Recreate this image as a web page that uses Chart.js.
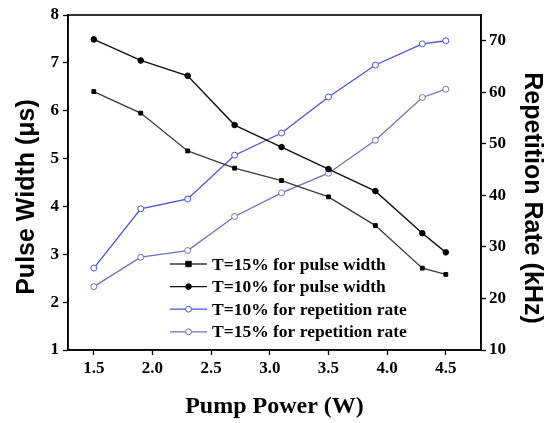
<!DOCTYPE html>
<html>
<head>
<meta charset="utf-8">
<script src="https://cdn.jsdelivr.net/npm/chart.js@4/dist/chart.umd.min.js"></script>
<style>
html,body{margin:0;padding:0;background:#fff;}
#wrap{width:549px;height:423px;position:relative;}
</style>
</head>
<body>
<div id="wrap"><canvas id="c" width="549" height="423"></canvas></div>
<script>
// ---- data ----
const pumpPower = [1.5, 1.9, 2.3, 2.7, 3.1, 3.5, 3.9, 4.3, 4.5];
const pulseT15 = [6.40, 5.95, 5.16, 4.80, 4.54, 4.20, 3.60, 2.71, 2.58];
const pulseT10 = [7.49, 7.05, 6.73, 5.70, 5.24, 4.78, 4.32, 3.44, 3.04];
const repT10 = [25.9, 37.4, 39.3, 47.8, 52.1, 59.1, 65.3, 69.4, 70.0];
const repT15 = [22.3, 28.0, 29.3, 35.9, 40.5, 44.3, 50.7, 59.0, 60.6];
const seriesLabels = ['T=15% for pulse width', 'T=10% for pulse width', 'T=10% for repetition rate', 'T=15% for repetition rate'];
const xTickValues = [1.5, 2.0, 2.5, 3.0, 3.5, 4.0, 4.5];
const xTickLabels = ['1.5', '2.0', '2.5', '3.0', '3.5', '4.0', '4.5'];
const leftTickValues = [1, 2, 3, 4, 5, 6, 7, 8];
const rightTickValues = [10, 20, 30, 40, 50, 60, 70];
const xTitle = 'Pump Power (W)';
const leftTitle = 'Pulse Width (\u03BCs)';
const rightTitle = 'Repetition Rate (kHz)';

const toXY = (ys) => pumpPower.map((x, i) => ({x: x, y: ys[i]}));

const tickFont = {family: '"Liberation Serif", "Times New Roman", serif', weight: 'bold', size: 17};

const frame = {
  id: 'frame',
  afterDraw(chart) {
    const a = chart.chartArea, ctx = chart.ctx;
    ctx.save();
    ctx.strokeStyle = '#000';
    ctx.lineWidth = 1.6;
    ctx.strokeRect(a.left, a.top, a.right - a.left, a.bottom - a.top);
    ctx.restore();
  }
};

const titles = {
  id: 'titles',
  afterDraw(chart) {
    const ctx = chart.ctx;
    ctx.save();
    ctx.fillStyle = '#000';
    ctx.textAlign = 'center';
    ctx.textBaseline = 'middle';
    ctx.font = 'bold 25px "Liberation Sans", Arial, sans-serif';
    ctx.save();
    ctx.translate(27, 197);
    ctx.rotate(-Math.PI / 2);
    ctx.fillText(leftTitle, 0, 0);
    ctx.restore();
    ctx.save();
    ctx.translate(532, 198);
    ctx.rotate(Math.PI / 2);
    ctx.fillText(rightTitle, 0, 0);
    ctx.restore();
    ctx.font = 'bold 24px "Liberation Serif", "Times New Roman", serif';
    ctx.textBaseline = 'alphabetic';
    ctx.fillText(xTitle, (chart.chartArea.left + chart.chartArea.right) / 2, 413);
    ctx.restore();
  }
};

const legendIn = {
  id: 'legendIn',
  afterDatasetsDraw(chart) {
    const ctx = chart.ctx;
    ctx.save();
    ctx.font = 'bold 17.5px "Liberation Serif", "Times New Roman", serif';
    ctx.textBaseline = 'middle';
    ctx.textAlign = 'left';
    chart.data.datasets.forEach((ds, i) => {
      const y = 264 + i * 22.6;
      ctx.strokeStyle = ds.borderColor;
      ctx.lineWidth = ds.borderWidth;
      ctx.beginPath();
      ctx.moveTo(170, y);
      ctx.lineTo(207, y);
      ctx.stroke();
      ctx.fillStyle = ds.pointBackgroundColor;
      ctx.strokeStyle = ds.pointBorderColor;
      ctx.lineWidth = ds.pointBorderWidth;
      ctx.beginPath();
      if (ds.pointStyle === 'rect') {
        const r = ds.pointRadius;
        ctx.rect(188.5 - r, y - r, 2 * r, 2 * r);
      } else {
        ctx.arc(188.5, y, ds.pointRadius, 0, Math.PI * 2);
      }
      ctx.fill();
      ctx.stroke();
      ctx.fillStyle = '#000';
      ctx.fillText(ds.label, 212, y + 1);
    });
    ctx.restore();
  }
};

new Chart(document.getElementById('c'), {
  type: 'line',
  data: {
    datasets: [
      {label: seriesLabels[0], data: toXY(pulseT15), yAxisID: 'y',
       borderColor: '#3a3a3a', borderWidth: 1.3, pointStyle: 'rect', pointRadius: 2.7,
       pointBackgroundColor: '#000', pointBorderColor: '#000', pointBorderWidth: 1},
      {label: seriesLabels[1], data: toXY(pulseT10), yAxisID: 'y',
       borderColor: '#111', borderWidth: 1.4, pointStyle: 'circle', pointRadius: 2.8,
       pointBackgroundColor: '#000', pointBorderColor: '#000', pointBorderWidth: 1},
      {label: seriesLabels[2], data: toXY(repT10), yAxisID: 'y2',
       borderColor: '#4353e2', borderWidth: 1.3, pointStyle: 'circle', pointRadius: 3,
       pointBackgroundColor: '#fff', pointBorderColor: '#4353e2', pointBorderWidth: 1},
      {label: seriesLabels[3], data: toXY(repT15), yAxisID: 'y2',
       borderColor: '#6b72b8', borderWidth: 1.3, pointStyle: 'circle', pointRadius: 3,
       pointBackgroundColor: '#fff', pointBorderColor: '#6b72b8', pointBorderWidth: 1}
    ]
  },
  options: {
    responsive: false,
    animation: false,
    layout: {padding: {top: 15, left: 0, right: 0, bottom: 0}},
    plugins: {legend: {display: false}, tooltip: {enabled: false}},
    elements: {line: {tension: 0}},
    scales: {
      x: {
        type: 'linear', min: 1.28, max: 4.8,
        afterBuildTicks: (s) => { s.ticks = xTickValues.map(v => ({value: v})); },
        afterFit: (s) => { s.height = 73; },
        ticks: {color: '#000', font: tickFont, padding: 3,
                callback: (v) => xTickLabels[xTickValues.indexOf(v)] ?? ''},
        grid: {drawOnChartArea: false, drawTicks: true, tickLength: 5, color: '#000', tickWidth: 1.3},
        border: {display: true, color: '#000', width: 1.6}
      },
      y: {
        type: 'linear', position: 'left', min: 1, max: 8,
        afterBuildTicks: (s) => { s.ticks = leftTickValues.map(v => ({value: v})); },
        afterFit: (s) => { s.width = 68; },
        ticks: {color: '#000', font: tickFont, padding: 4},
        grid: {drawOnChartArea: false, drawTicks: true, tickLength: 5, color: '#000', tickWidth: 1.3},
        border: {display: true, color: '#000', width: 1.6}
      },
      y2: {
        type: 'linear', position: 'right', min: 10, max: 75,
        afterBuildTicks: (s) => { s.ticks = rightTickValues.map(v => ({value: v})); },
        afterFit: (s) => { s.width = 68; },
        ticks: {color: '#000', font: tickFont, padding: 3},
        grid: {drawOnChartArea: false, drawTicks: true, tickLength: 5, color: '#000', tickWidth: 1.3},
        border: {display: true, color: '#000', width: 1.6}
      }
    }
  },
  plugins: [frame, titles, legendIn]
});
</script>
</body>
</html>
